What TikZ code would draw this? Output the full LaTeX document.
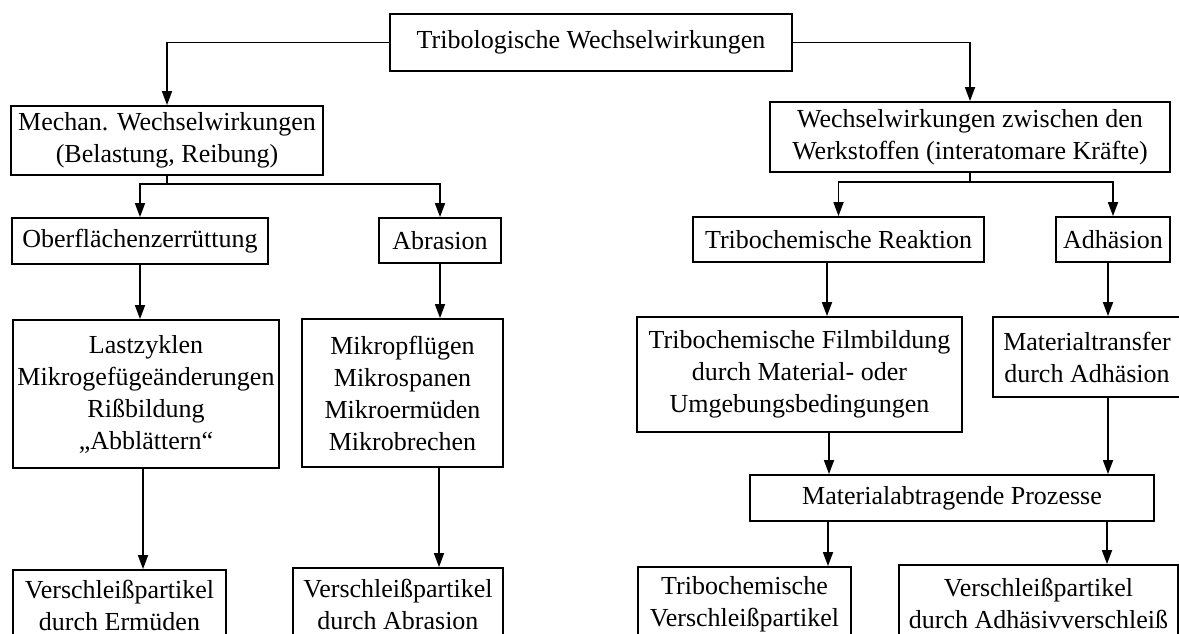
\documentclass[tikz,border=0pt]{standalone}
\usepackage{fontspec}
\setmainfont{Liberation Serif}
\usetikzlibrary{arrows.meta}
\tikzset{
  box/.style={draw, line width=1.8pt, inner sep=0pt, align=center,
    font=\fontsize{26}{32}\selectfont},
  arr/.style={line width=1.7pt, -{Triangle[length=14pt,width=10pt]}},
  ln/.style={line width=1.7pt}
}
\begin{document}
\begin{tikzpicture}[x=1pt,y=-1pt]
\clip (0,0) rectangle (1179,634);
\fill[white] (0,0) rectangle (1179,634);
% boxes
\node[box, minimum width=402pt, minimum height=57pt] (top) at (591,42.5) {Tribologische Wechselwirkungen};
\node[box, minimum width=312pt, minimum height=69pt] (mech) at (167,140.5) {Mechan. Wechselwirkungen\\(Belastung, Reibung)};
\node[box, minimum width=400pt, minimum height=70pt] (wzw) at (970,137) {Wechselwirkungen zwischen den\\Werkstoffen (interatomare Kräfte)};
\node[box, minimum width=256pt, minimum height=46pt] (ober) at (140,241) {Oberflächenzerrüttung};
\node[box, minimum width=122pt, minimum height=45pt] (abr) at (440,240.5) {Abrasion};
\node[box, minimum width=291pt, minimum height=45pt] (reak) at (838.5,239.5) {Tribochemische Reaktion};
\node[box, minimum width=114pt, minimum height=45pt] (adh) at (1113,239.5) {Adhäsion};
\node[box, minimum width=266pt, minimum height=148pt] (last) at (146,394) {Lastzyklen\\Mikrogefügeänderungen\\Rißbildung\\„Abblättern“};
\node[box, minimum width=201pt, minimum height=148pt] (mikro) at (402.5,393) {Mikropflügen\\Mikrospanen\\Mikroermüden\\Mikrobrechen};
\node[box, minimum width=325pt, minimum height=115pt] (film) at (799.5,374.5) {Tribochemische Filmbildung\\durch Material- oder\\Umgebungsbedingungen};
\node[box, minimum width=188pt, minimum height=80pt] (mtrans) at (1087,357) {Materialtransfer\\durch Adhäsion};
\node[box, minimum width=404pt, minimum height=46pt] (mabt) at (952,498) {Materialabtragende Prozesse};
\node[box, minimum width=213pt, minimum height=71pt] (verm) at (119.5,605.5) {Verschleißpartikel\\durch Ermüden};
\node[box, minimum width=210pt, minimum height=73pt] (vabr) at (398,604.5) {Verschleißpartikel\\durch Abrasion};
\node[box, minimum width=213pt, minimum height=74pt] (vtri) at (744.5,604) {Tribochemische\\Verschleißpartikel};
\node[box, minimum width=279pt, minimum height=76pt] (vadh) at (1038.5,603) {Verschleißpartikel\\durch Adhäsivverschleiß};
% connectors
\draw[arr] (top.west) -| (mech.north);
\draw[arr] (top.east) -| (wzw.north);
\coordinate (s1) at (167,184);
\coordinate (s2) at (970,182);
\draw[ln] (mech.south) -- (s1);
\draw[arr] (s1) -| (ober.north);
\draw[arr] (s1) -| (abr.north);
\draw[ln] (wzw.south) -- (s2);
\draw[arr] (s2) -| (reak.north);
\draw[arr] (s2) -| (adh.north);
\draw[arr] (ober.south) -- (ober.south |- last.north);
\draw[arr] (abr.south) -- (abr.south |- mikro.north);
\draw[arr] (last.south -| 143,0) -- (verm.north -| 143,0);
\draw[arr] (mikro.south -| 439,0) -- (vabr.north -| 439,0);
\draw[arr] (reak.south -| 827,0) -- (film.north -| 827,0);
\draw[arr] (adh.south -| 1108,0) -- (mtrans.north -| 1108,0);
\draw[arr] (film.south -| 829,0) -- (mabt.north -| 829,0);
\draw[arr] (mtrans.south -| 1108,0) -- (mabt.north -| 1108,0);
\draw[arr] (mabt.south -| 828,0) -- (vtri.north -| 828,0);
\draw[arr] (mabt.south -| 1107,0) -- (vadh.north -| 1107,0);
\end{tikzpicture}
\end{document}
